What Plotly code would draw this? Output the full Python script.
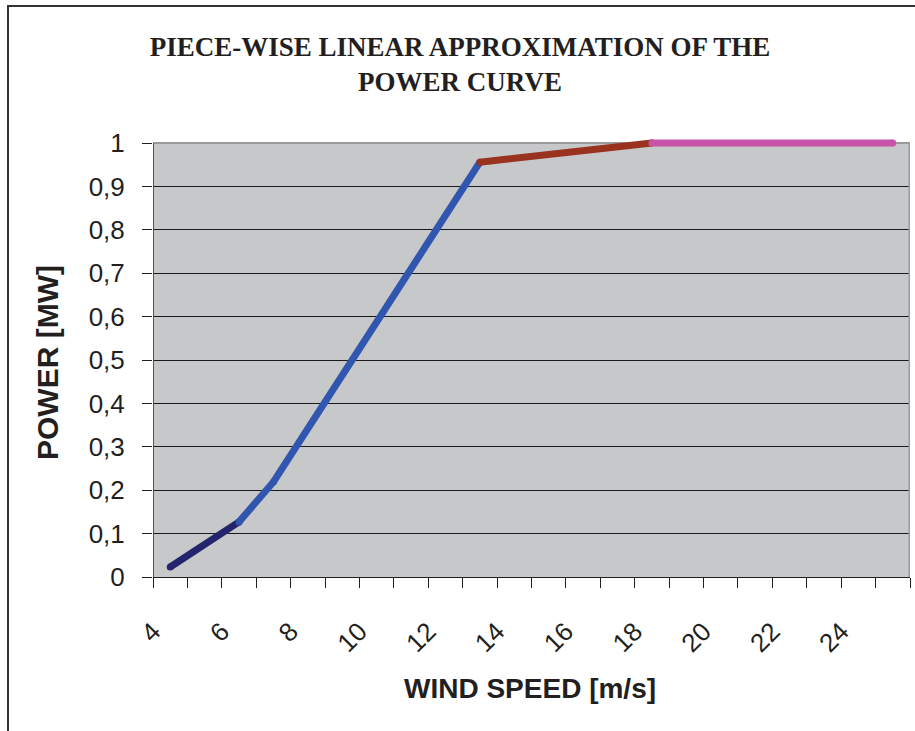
import plotly.graph_objects as go

# Piece-wise linear power curve: each segment drawn as its own coloured line
seg_names = ["Start-up", "Linear rise", "Approach to rated", "Rated power"]
seg_colors = ["#24246E", "#3056B0", "#993320", "#C853A8"]
seg_wind = [
    [4.5, 6.5],
    [6.5, 7.5, 13.5],
    [13.5, 18.5],
    [18.5, 25.5],
]
seg_power = [
    [0.023, 0.127],
    [0.127, 0.219, 0.956],
    [0.956, 1.0],
    [1.0, 1.0],
]

x_tick_vals = [4, 6, 8, 10, 12, 14, 16, 18, 20, 22, 24]
y_tick_vals = [0, 0.1, 0.2, 0.3, 0.4, 0.5, 0.6, 0.7, 0.8, 0.9, 1.0]

X_MIN, X_MAX = 4, 26
Y_MIN, Y_TOP = 0, 1.0
Y_HEAD = 0.014  # small headroom so the line at rated power is not clipped

W, H = 915, 731
L, R, T, B = 153, 5, 137, 154
pw, ph = W - L - R, H - T - B


def px_to_paper_x(px):
    return (px - L) / pw


def px_to_paper_y(py):
    return (H - B - py) / ph


ink = "#231F20"
sans = "Liberation Sans, Arial, sans-serif"

fig = go.Figure()
for name, color, xs, ys in zip(seg_names, seg_colors, seg_wind, seg_power):
    fig.add_trace(go.Scatter(
        x=xs, y=ys, name=name, mode="lines+markers",
        line=dict(color=color, width=7),
        marker=dict(color=color, size=7),
        showlegend=False,
    ))

fig.update_layout(
    width=W, height=H,
    margin=dict(l=L, r=R, t=T, b=B),
    paper_bgcolor="white",
    plot_bgcolor="white",
    separators=",.",
    title=dict(
        text="PIECE-WISE LINEAR APPROXIMATION OF THE<br>POWER CURVE",
        font=dict(family="Liberation Serif, Times New Roman, serif", size=27,
                  color=ink, weight="bold"),
        x=460 / W, xref="container", xanchor="center",
        y=1 - 56 / H, yref="container", yanchor="top",
    ),
    xaxis=dict(
        range=[X_MIN, X_MAX], tickmode="array", tickvals=x_tick_vals,
        tickangle=-45, ticks="outside", ticklen=10, tickcolor=ink,
        tickfont=dict(family=sans, size=26, color=ink),
        ticklabelstandoff=18,
        minor=dict(tickmode="linear", tick0=4, dtick=1, ticks="outside",
                   ticklen=10, tickcolor=ink, showgrid=False),
        showgrid=False, zeroline=False,
        showline=True, linecolor=ink, linewidth=1,
    ),
    yaxis=dict(
        range=[Y_MIN, Y_TOP + Y_HEAD], tickmode="array", tickvals=y_tick_vals,
        ticks="outside", ticklen=10, tickcolor=ink,
        tickfont=dict(family=sans, size=26, color=ink),
        ticklabelstandoff=12,
        showgrid=True, gridcolor="#1A1A1A", gridwidth=1,
        zeroline=False, showline=False,
    ),
    annotations=[
        dict(text="POWER [MW]", textangle=-90, showarrow=False,
             xref="paper", yref="paper",
             x=px_to_paper_x(47), y=px_to_paper_y(362),
             xanchor="center", yanchor="middle",
             font=dict(family=sans, size=30, color=ink, weight="bold")),
        dict(text="WIND SPEED [m/s]", showarrow=False,
             xref="paper", yref="paper",
             x=px_to_paper_x(530), y=px_to_paper_y(688),
             xanchor="center", yanchor="middle",
             font=dict(family=sans, size=28, color=ink, weight="bold")),
    ],
    shapes=[
        # grey plotting area, under the gridlines
        dict(type="rect", xref="x", yref="y",
             x0=X_MIN, x1=X_MAX, y0=Y_MIN, y1=Y_TOP,
             fillcolor="#C7C8CA", line=dict(width=0), layer="below"),
        # grey top and right edges, dark left axis line
        dict(type="line", xref="x", yref="y", x0=X_MIN, x1=X_MAX, y0=Y_TOP, y1=Y_TOP,
             line=dict(color="#9A9A9A", width=2), layer="between"),
        dict(type="line", xref="x", yref="y", x0=X_MAX, x1=X_MAX, y0=Y_MIN, y1=Y_TOP,
             line=dict(color="#9A9A9A", width=3), layer="between"),
        dict(type="line", xref="x", yref="y", x0=X_MIN, x1=X_MIN, y0=Y_MIN, y1=Y_TOP,
             line=dict(color="#555555", width=2), layer="between"),
        # outer frame around the whole chart
        dict(type="rect", xref="paper", yref="paper",
             x0=px_to_paper_x(8), x1=px_to_paper_x(930),
             y0=px_to_paper_y(760), y1=px_to_paper_y(6),
             line=dict(color="#333333", width=2), layer="above"),
    ],
)

fig.write_html("out.html")
